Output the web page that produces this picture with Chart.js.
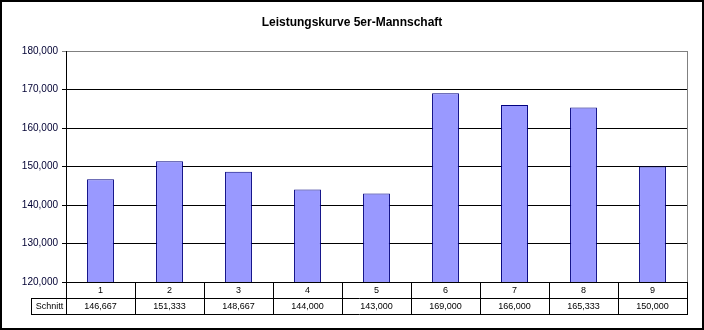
<!DOCTYPE html>
<html>
<head>
<meta charset="utf-8">
<script src="https://cdn.jsdelivr.net/npm/chart.js@4"></script>
<style>
  html, body { margin: 0; padding: 0; background: #fff; }
  #wrap { width: 704px; height: 330px; }
</style>
</head>
<body>
<div id="wrap"><canvas id="leistungChart" width="704" height="330"></canvas></div>
<script>
const chartTitle = "Leistungskurve 5er-Mannschaft";
const categories = ["1", "2", "3", "4", "5", "6", "7", "8", "9"];
const seriesName = "Schnitt";
const schnitt = [146.667, 151.333, 148.667, 144.000, 143.000, 169.000, 166.000, 165.333, 150.000];
const yTicks = [120, 130, 140, 150, 160, 170, 180];

// Excel-style number: 3 decimals, decimal comma
function fmt(v) {
    return v.toFixed(3).replace(".", ",");
}

const FONT = "'Liberation Sans', Arial, sans-serif";

// title, plot border, data table, outer frame
const excelDecor = {
    id: "excelDecor",
    afterDraw(chart) {
        const ctx = chart.ctx;
        const area = chart.chartArea;
        const x = chart.scales.x;
        const half = (area.right - area.left) / categories.length / 2;
        const row1 = area.bottom;
        const row2 = row1 + 16;
        const row3 = row2 + 16;
        const labelLeft = 31;

        ctx.save();
        // title
        ctx.fillStyle = "#000";
        ctx.font = "bold 12px " + FONT;
        ctx.textAlign = "center";
        ctx.textBaseline = "middle";
        ctx.fillText(chartTitle, 352, 23);

        // right border of plot area
        ctx.strokeStyle = "#808080";
        ctx.lineWidth = 1;
        ctx.beginPath();
        ctx.moveTo(Math.round(area.right) + 0.5, area.top);
        ctx.lineTo(Math.round(area.right) + 0.5, area.bottom);
        ctx.stroke();

        // data table lines
        ctx.strokeStyle = "#000";
        ctx.beginPath();
        ctx.moveTo(labelLeft, row2 + 0.5);
        ctx.lineTo(Math.round(area.right) + 1, row2 + 0.5);
        ctx.moveTo(labelLeft, row3 + 0.5);
        ctx.lineTo(Math.round(area.right) + 1, row3 + 0.5);
        ctx.moveTo(labelLeft + 0.5, row2);
        ctx.lineTo(labelLeft + 0.5, row3);
        for (let i = 0; i <= categories.length; i++) {
            const px = Math.round(x.getPixelForValue(i) - half) + 0.5;
            ctx.moveTo(px, row1);
            ctx.lineTo(px, row3 + 1);
        }
        ctx.stroke();

        // table text
        ctx.font = "9px " + FONT;
        ctx.fillStyle = "#000";
        ctx.textAlign = "center";
        categories.forEach((c, i) => {
            const cx = x.getPixelForValue(i);
            ctx.fillText(c, cx, row1 + 8.5);
            ctx.fillText(fmt(schnitt[i]), cx, row2 + 8.5);
        });
        ctx.fillText(seriesName, (labelLeft + area.left) / 2 + 1, row2 + 8.5);

        // outer frame
        ctx.lineWidth = 2;
        ctx.strokeRect(1, 1, 702, 328);
        ctx.restore();
    }
};

const ctx = document.getElementById("leistungChart").getContext("2d");
new Chart(ctx, {
    type: "bar",
    data: {
        labels: categories,
        datasets: [{
            label: seriesName,
            data: schnitt,
            backgroundColor: "#9999ff",
            borderColor: "#000080",
            borderWidth: 1,
            barPercentage: 0.39,
            categoryPercentage: 1
        }]
    },
    options: {
        responsive: false,
        animation: false,
        layout: {
            padding: { left: 0, right: 17, top: 51, bottom: 48 }
        },
        plugins: {
            legend: { display: false },
            title: { display: false },
            tooltip: { enabled: false }
        },
        scales: {
            x: {
                display: false
            },
            y: {
                min: yTicks[0],
                max: yTicks[yTicks.length - 1],
                afterFit(scale) { scale.width = 66; },
                afterBuildTicks(scale) {
                    scale.ticks = yTicks.map(v => ({ value: v }));
                },
                border: { color: "#000", width: 1 },
                grid: {
                    color: c => (c.tick && c.tick.value === 180 ? "#808080" : "#000"),
                    lineWidth: 1,
                    tickLength: 4
                },
                ticks: {
                    color: "#000033",
                    padding: 4,
                    font: { family: FONT, size: 10 },
                    callback: v => fmt(v)
                }
            }
        }
    },
    plugins: [excelDecor]
});
</script>
</body>
</html>
